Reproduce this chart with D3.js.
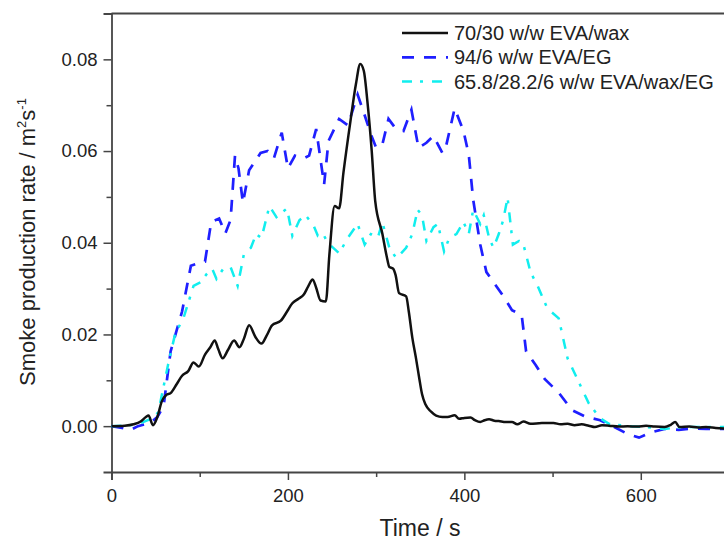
<!DOCTYPE html>
<html>
<head>
<meta charset="utf-8">
<script src="https://cdn.jsdelivr.net/npm/d3@7"></script>
<style>
  body { margin: 0; background: #fff; }
  svg { display: block; font-family: "Liberation Sans", Arial, sans-serif; }
</style>
</head>
<body>
<svg id="chart"></svg>
<script>
// series names, in legend order
var seriesNames = ['70/30 w/w EVA/wax', '94/6 w/w EVA/EG', '65.8/28.2/6 w/w EVA/wax/EG'];

// [time (s), smoke production rate (m2/s)]
var waxData = [
  [0,0],[15,0.0001],[25,0.0004],[33,0.001],[39,0.002],[42,0.0023],[47,0.0002],[52,0.002],
  [57,0.0054],[62,0.0068],[67,0.0072],[74,0.0092],[80,0.011],[87,0.012],[93,0.0139],
  [99,0.013],[106,0.0156],[112,0.0172],[117,0.0187],[121,0.0168],[126,0.0148],[132,0.0166],
  [139,0.0187],[145,0.0172],[150,0.019],[156,0.022],[163,0.0195],[170,0.018],[176,0.0198],
  [182,0.022],[192,0.023],[199,0.025],[205,0.0268],[212,0.0278],[218,0.0287],[223,0.0305],
  [228,0.032],[232,0.0302],[237,0.0274],[243,0.0272],[247,0.0374],[253,0.048],[258,0.0475],
  [263,0.0554],[271,0.0667],[277,0.0745],[282,0.079],[286,0.0775],[290,0.071],[295,0.06],
  [299,0.049],[307,0.042],[312,0.037],[315,0.0347],[319,0.0344],[322,0.033],[326,0.029],
  [334,0.0283],[337,0.025],[341,0.0193],[345,0.015],[349,0.0103],[352,0.007],[356,0.0047],
  [362,0.0032],[368,0.0023],[375,0.002],[381,0.002],[389,0.0024],[394,0.0016],[400,0.0018],
  [407,0.0019],[412,0.0013],[418,0.0009],[423,0.0013],[428,0.0015],[434,0.0012],[439,0.0011],
  [447,0.0009],[454,0.0009],[460,0.0004],[467,0.001],[475,0.0005],[488,0.0007],[501,0.0007],
  [509,0.0004],[517,0.0005],[525,0.0002],[533,0.0004],[541,0.0001],[548,-0.0002],[556,0.0002],
  [564,0.0001],[575,-0.0001],[585,0],[596,-0.0001],[606,0.0001],[616,-0.0001],[627,-0.0002],
  [634,0.0003],[639,0.0009],[644,-0.0002],[655,-0.0001],[665,-0.0003],[674,-0.0002],
  [685,-0.0004],[700,-0.0006]
];

var egData = [
  [0,0],[12,-0.0004],[22,-0.0008],[30,0],[38,0.0004],[46,0.001],[52,0.002],[59,0.0043],
  [67,0.0163],[80,0.025],[90,0.035],[98,0.0355],[106,0.0359],[113,0.0445],[122,0.0453],
  [129,0.042],[135,0.045],[140,0.059],[144,0.0562],[149,0.0487],[156,0.0558],[169,0.0596],
  [177,0.06],[184,0.0584],[193,0.064],[200,0.0562],[208,0.059],[218,0.0584],[224,0.059],
  [232,0.0648],[241,0.0527],[246,0.0622],[258,0.067],[268,0.0656],[279,0.0723],[287,0.0678],
  [294,0.0637],[300,0.0607],[307,0.0614],[314,0.067],[321,0.0652],[331,0.0644],[340,0.069],
  [348,0.0607],[357,0.0618],[365,0.0633],[375,0.0596],[378,0.06],[389,0.0693],[399,0.0644],
  [405,0.0592],[410,0.0494],[418,0.0396],[425,0.0336],[433,0.0314],[444,0.0284],[454,0.0253],
  [465,0.0242],[470,0.0163],[481,0.0133],[491,0.0103],[507,0.0073],[522,0.0035],[538,0.002],
  [554,0.0013],[570,-0.0002],[585,-0.0017],[598,-0.0025],[611,-0.0014],[627,-0.0006],
  [643,-0.0008],[659,-0.0005],[674,-0.0006],[700,-0.0006]
];

var waxEgData = [
  [0,0],[15,0.0001],[30,0.0004],[46,0.0017],[53,0.003],[64,0.0133],[72,0.02],[82,0.0238],
  [93,0.0306],[101,0.0314],[108,0.0332],[114,0.0344],[119,0.0321],[127,0.0344],[135,0.0347],
  [143,0.0306],[150,0.0374],[158,0.0389],[164,0.0419],[170,0.041],[179,0.048],[187,0.0456],
  [199,0.0475],[205,0.0415],[213,0.0449],[220,0.046],[229,0.0438],[234,0.0415],[240,0.0419],
  [245,0.04],[258,0.0377],[268,0.0411],[279,0.0441],[287,0.0396],[294,0.0419],[302,0.0411],
  [307,0.0445],[315,0.0389],[323,0.0366],[334,0.0389],[341,0.0419],[347,0.0472],[352,0.046],
  [357,0.0404],[365,0.0434],[370,0.0441],[377,0.0381],[383,0.0411],[391,0.0419],[399,0.0445],
  [405,0.0419],[410,0.0472],[418,0.0441],[422,0.046],[428,0.0411],[433,0.0389],[439,0.0419],
  [444,0.0449],[449,0.0498],[455,0.0396],[462,0.0404],[467,0.0396],[475,0.0336],[483,0.0306],
  [494,0.0257],[507,0.0235],[517,0.0148],[528,0.0103],[541,0.005],[554,0.0017],[564,0.0005],
  [585,0],[606,-0.0002],[627,-0.0006],[648,-0.0002],[669,-0.0002],[700,-0.0002]
];

var xTicks = [0, 200, 400, 600];
var xMinorTicks = [100, 300, 500];
var yTicks = [0.00, 0.02, 0.04, 0.06, 0.08];
var yMinorTicks = [0.01, 0.03, 0.05, 0.07];

var width = 724, height = 542;
var plot = { left: 111.5, right: 729, top: 13.5, bottom: 472 };
var axisColor = '#454545';
var textColor = '#222';

var svg = d3.select('#chart')
  .attr('width', width)
  .attr('height', height);

var x = d3.scaleLinear().domain([0, 700]).range([plot.left, plot.right]);
var y = d3.scaleLinear().domain([-0.01, 0.09]).range([plot.bottom, plot.top]);

// top frame line
svg.append('line')
  .attr('x1', plot.left).attr('x2', plot.right)
  .attr('y1', plot.top).attr('y2', plot.top)
  .attr('stroke', axisColor).attr('stroke-width', 1.8);

// x axis
svg.append('g')
  .attr('transform', 'translate(0,' + plot.bottom + ')')
  .call(d3.axisBottom(x).tickValues(xTicks).tickFormat(d3.format('d')).tickSize(8).tickPadding(9));
svg.append('g')
  .attr('transform', 'translate(0,' + plot.bottom + ')')
  .call(d3.axisBottom(x).tickValues(xMinorTicks).tickFormat('').tickSize(5))
  .select('.domain').remove();

// y axis
svg.append('g')
  .attr('transform', 'translate(' + plot.left + ',0)')
  .call(d3.axisLeft(y).tickValues(yTicks).tickFormat(d3.format('.2f')).tickSize(8).tickPadding(6));
svg.append('g')
  .attr('transform', 'translate(' + plot.left + ',0)')
  .call(d3.axisLeft(y).tickValues(yMinorTicks).tickFormat('').tickSize(5))
  .select('.domain').remove();

svg.selectAll('.domain').attr('stroke', axisColor).attr('stroke-width', 1.8);
svg.selectAll('.tick line').attr('stroke', axisColor).attr('stroke-width', 1.5);
svg.selectAll('.tick text')
  .attr('fill', textColor)
  .style('font-size', '18.5px')
  .style('font-family', '"Liberation Sans", Arial, sans-serif');

// axis titles
svg.append('text')
  .attr('x', 420).attr('y', 536)
  .attr('text-anchor', 'middle')
  .attr('fill', textColor)
  .style('font-size', '23px')
  .text('Time / s');

var yTitle = svg.append('text')
  .attr('transform', 'translate(35,242) rotate(-90)')
  .attr('text-anchor', 'middle')
  .attr('fill', textColor)
  .style('font-size', '22px');
yTitle.append('tspan').text('Smoke production rate / m');
yTitle.append('tspan').attr('dy', -9).style('font-size', '13px').text('2');
yTitle.append('tspan').attr('dy', 9).text('s');
yTitle.append('tspan').attr('dy', -9).style('font-size', '13px').text('-1');

// lines
var smoothLine = d3.line()
  .x(function(d) { return x(d[0]); })
  .y(function(d) { return y(d[1]); })
  .curve(d3.curveMonotoneX);
var straightLine = d3.line()
  .x(function(d) { return x(d[0]); })
  .y(function(d) { return y(d[1]); });

var styles = [
  { color: '#111111', width: 2.5, dash: null },
  { color: '#1f1fff', width: 2.7, dash: '12,10' },
  { color: '#11eeee', width: 2.5, dash: '10,8,3,9' }
];

svg.append('path')
  .datum(egData)
  .attr('d', straightLine)
  .attr('fill', 'none')
  .attr('stroke', styles[1].color)
  .attr('stroke-width', styles[1].width)
  .attr('stroke-dasharray', styles[1].dash);

svg.append('path')
  .datum(waxEgData)
  .attr('d', straightLine)
  .attr('fill', 'none')
  .attr('stroke', styles[2].color)
  .attr('stroke-width', styles[2].width)
  .attr('stroke-dasharray', styles[2].dash);

svg.append('path')
  .datum(waxData)
  .attr('d', smoothLine)
  .attr('fill', 'none')
  .attr('stroke', styles[0].color)
  .attr('stroke-width', styles[0].width)
  .attr('stroke-linejoin', 'round');

// legend
var legend = svg.append('g').attr('transform', 'translate(402,33)');
seriesNames.forEach(function(name, i) {
  var row = legend.append('g').attr('transform', 'translate(0,' + (i * 24.3) + ')');
  row.append('line')
    .attr('x1', 0).attr('x2', 46)
    .attr('y1', 0).attr('y2', 0)
    .attr('stroke', styles[i].color)
    .attr('stroke-width', styles[i].width)
    .attr('stroke-dasharray', styles[i].dash);
  row.append('text')
    .attr('x', 52).attr('y', 7)
    .attr('fill', textColor)
    .style('font-size', '20px')
    .text(name);
});
</script>
</body>
</html>
